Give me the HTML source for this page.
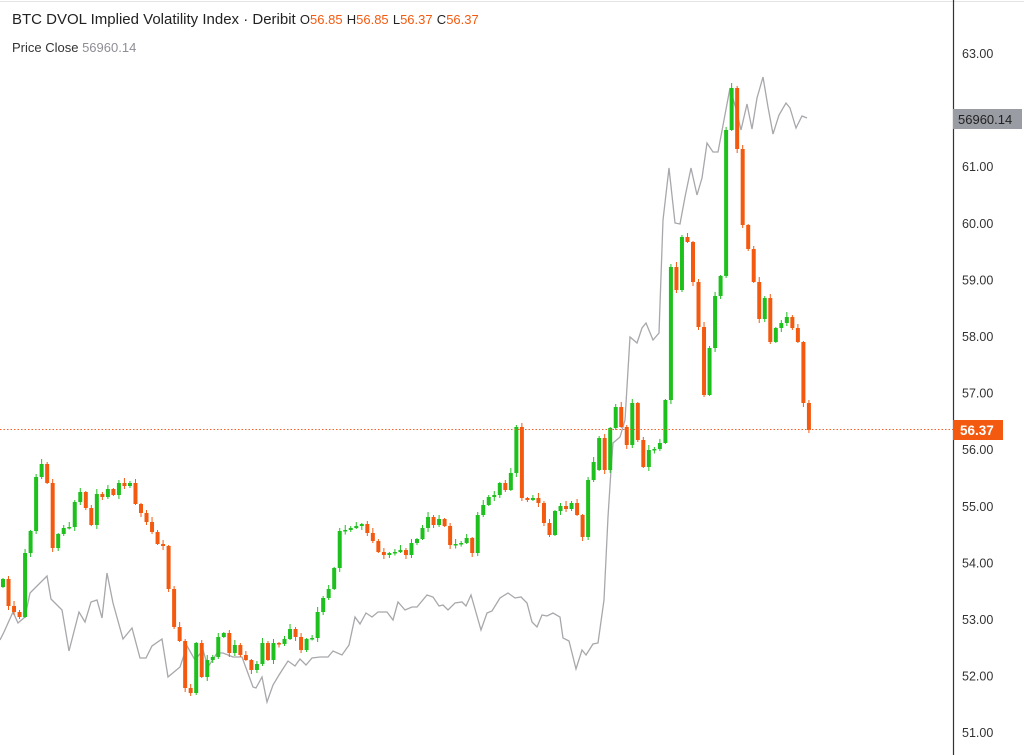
<!DOCTYPE html>
<html><head><meta charset="utf-8"><style>
body{margin:0;background:#fff;width:1024px;height:755px;overflow:hidden;font-family:"Liberation Sans",sans-serif}
svg{position:absolute;left:0;top:0}
.t{font-size:14px;fill:#222}
.ax{font-size:12.5px;fill:#333}
</style></head><body>
<svg id="s" width="1024" height="755" xmlns="http://www.w3.org/2000/svg">
<rect width="1024" height="755" fill="#fff"/>
<line x1="0" y1="1.5" x2="1024" y2="1.5" stroke="#e4e4e4"/>
<line x1="953.5" y1="0" x2="953.5" y2="755" stroke="#333" stroke-width="1.2"/>
<g id="ax"></g>
<polyline id="ln" fill="none" stroke="#a8a8ac" stroke-width="1.3"/>
<g id="c"></g>
<line x1="0" y1="429.5" x2="953" y2="429.5" stroke="#f0622a" stroke-width="1" stroke-dasharray="1.5,2"/>
<rect x="953" y="109" width="69" height="20" fill="#9a9ca4"/>
<text x="958" y="124" font-size="13" fill="#222">56960.14</text>
<rect x="953" y="420" width="50" height="20" fill="#f35a0f"/>
<text x="960" y="435" font-size="13.5" fill="#fff" font-weight="bold">56.37</text>
<text x="12" y="24" class="t" style="font-size:15px">BTC DVOL Implied Volatility Index · Deribit <tspan fill="#222" font-size="13">O</tspan><tspan fill="#f35a0f" font-size="13">56.85</tspan> <tspan font-size="13">H</tspan><tspan fill="#f35a0f" font-size="13">56.85</tspan> <tspan font-size="13">L</tspan><tspan fill="#f35a0f" font-size="13">56.37</tspan> <tspan font-size="13">C</tspan><tspan fill="#f35a0f" font-size="13">56.37</tspan></text>
<text x="12" y="52" font-size="13" fill="#333">Price Close <tspan fill="#8e8e96">56960.14</tspan></text>
</svg>
<script>
(function(){
var ns="http://www.w3.org/2000/svg";
var ax=document.getElementById('ax');
for(var v=63;v>=51;v--){var y=53+(63-v)*56.6;if(v==62)continue;var t=document.createElementNS(ns,'text');t.setAttribute('x',962);t.setAttribute('y',y+5);t.setAttribute('class','ax');t.textContent=v+'.00';ax.appendChild(t);}
var C=[579,606,612,617,553,531,477,464,483,548,534,528,527,502,492,508,525,494,497,489,495,483,486,483,504,513,522,532,544,546,589,627,641,688,693,643,677,660,657,637,633,653,645,655,660,670,664,643,660,643,644,639,629,637,650,639,638,612,598,589,568,531,530,528,526,524,533,541,552,555,553,552,550,555,543,539,528,517,525,519,526,545,544,543,538,553,515,505,497,495,483,490,473,427,498,500,498,503,523,535,511,506,509,503,515,537,480,462,438,470,428,407,427,445,403,440,467,450,449,443,400,267,290,237,242,282,327,395,348,296,276,130,88,149,225,249,282,319,298,342,328,323,317,328,342,403,430];
var g=document.getElementById('c'),o=587,h='';
for(var i=0;i<C.length;i++){var c=C[i];if(i==108)o=470;if(i==110)o=470;var x=3+5.52*i;var up=c<=o;var col=up?'#1ec01e':'#f35a0f';var yt=Math.min(o,c),yb=Math.max(o,c);if(yb-yt<1.5){yb=yt+1.5;}
var w=((i*7)%5)+1;h+='<line x1="'+x+'" x2="'+x+'" y1="'+(yt-w)+'" y2="'+(yb+((i*3)%4)+1)+'" stroke="'+col+'" stroke-width="1"/>';
h+='<rect x="'+(x-2)+'" y="'+yt+'" width="4" height="'+(yb-yt)+'" fill="'+col+'"/>';o=c;}
g.innerHTML=h;
var L="0,640 4,632 13,612 18,623 25,617 30,593 47,576 51,599 62,610 69,651 79,612 85,622 91,602 97,600 102,618 107,573 113,603 123,639 132,628 140,658 146,658 152,646 162,639 168,677 180,667 187,646 195,660 203,650 208,667 217,653 223,653 233,657 242,657 253,687 256,688 262,677 267,702 273,685 279,675 288,661 295,666 300,659 306,665 312,658 320,657 328,657 333,651 342,655 349,645 355,617 360,624 366,613 372,617 378,612 387,612 393,620 398,602 405,610 412,607 417,607 427,595 433,597 439,606 443,605 448,610 455,603 462,602 466,606 471,595 481,630 487,613 492,611 500,598 508,593 515,598 521,597 527,603 532,622 537,627 542,615 547,616 553,613 560,617 563,638 569,641 576,669 582,650 586,655 593,644 598,643 604,600 608,517 611,470 613,443 620,437 625,420 630,337 637,343 642,328 646,323 653,340 659,333 663,220 669,168 675,223 680,224 685,197 691,168 697,195 702,178 707,143 713,152 718,152 730,88 736,109 741,130 747,104 752,129 757,98 763,77 768,107 773,134 779,115 786,103 790,108 796,128 802,116 807,118";
document.getElementById('ln').setAttribute('points',L);
})();
</script>
</body></html>
